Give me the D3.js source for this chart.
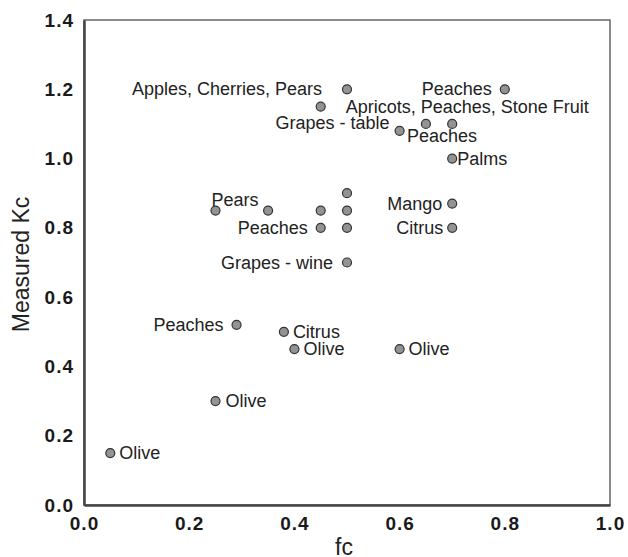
<!DOCTYPE html>
<html lang="en">
<head>
  <meta charset="UTF-8">
  <title>Measured Kc vs fc</title>
  <script src="https://d3js.org/d3.v7.min.js"></script>
  <style>
    body { margin: 0; background: #fff; font-family: "Liberation Sans", Arial, sans-serif; }
    svg { display: block; }
    .tick-label { font-weight: bold; font-size: 19px; fill: #1a1a1a; letter-spacing: 1px; }
    .pt-label { font-size: 18px; fill: #222; }
    .axis-title { font-size: 23px; fill: #222; }
  </style>
</head>
<body>
<svg id="chart" width="628" height="557"></svg>
<script>
// Data
const fc = [0.05, 0.25, 0.29, 0.38, 0.40, 0.60, 0.25, 0.35, 0.45, 0.50, 0.50, 0.45,
            0.50, 0.50, 0.70, 0.70, 0.50, 0.45, 0.80, 0.60, 0.65, 0.70, 0.70];
const kc = [0.15, 0.30, 0.52, 0.50, 0.45, 0.45, 0.85, 0.85, 0.85, 0.85, 0.90, 0.80,
            0.80, 0.70, 0.87, 0.80, 1.20, 1.15, 1.20, 1.08, 1.10, 1.10, 1.00];

// label text and the index of the point it belongs to
const labelText = ['Olive', 'Olive', 'Peaches', 'Citrus', 'Olive', 'Olive', 'Pears',
  'Peaches', 'Grapes - wine', 'Mango', 'Citrus', 'Apples, Cherries, Pears',
  'Apricots, Peaches, Stone Fruit', 'Peaches', 'Grapes - table', 'Peaches', 'Palms'];
const labelPoint = [0, 1, 2, 3, 4, 5, 6, 11, 13, 14, 15, 16, 17, 18, 19, 20, 22];
// offsets [dx, dy(baseline), anchor]
const labelPos = [
  [9, 6, 'start'], [10, 6, 'start'], [-13, 6, 'end'], [9, 6, 'start'], [9, 6, 'start'],
  [9, 6, 'start'], [-4, -5, 'start'], [-13, 6, 'end'], [-14, 6, 'end'], [-10, 6, 'end'],
  [-9, 6, 'end'], [-25, 6, 'end'], [25, 6, 'start'], [-13, 6, 'end'], [-10, -2, 'end'],
  [-19, 18, 'start'], [5, 6, 'start']
];

const xTicks = [0, 0.2, 0.4, 0.6, 0.8, 1.0];
const yTicks = [0, 0.2, 0.4, 0.6, 0.8, 1.0, 1.2, 1.4];

const margin = { left: 84, right: 18, top: 20, bottom: 52 };
const width = 628, height = 557;

const x = d3.scaleLinear().domain([0, 1]).range([margin.left, width - margin.right]);
const y = d3.scaleLinear().domain([0, 1.4]).range([height - margin.bottom, margin.top]);

const svg = d3.select('#chart');

// frame
svg.append('rect')
  .attr('x', x(0)).attr('y', y(1.4))
  .attr('width', x(1) - x(0)).attr('height', y(0) - y(1.4))
  .attr('fill', 'none').attr('stroke', '#666').attr('stroke-width', 1.5);

// axes (no tick marks, bold labels)
const xAxis = svg.append('g')
  .attr('transform', `translate(0,${y(0)})`)
  .call(d3.axisBottom(x).tickValues(xTicks).tickSize(0).tickPadding(12).tickFormat(d3.format('.1f')));
const yAxis = svg.append('g')
  .attr('transform', `translate(${x(0)},0)`)
  .call(d3.axisLeft(y).tickValues(yTicks).tickSize(0).tickPadding(10).tickFormat(d3.format('.1f')));
[xAxis, yAxis].forEach(g => {
  g.select('.domain').attr('stroke', '#444').attr('stroke-width', 2.5);
  g.selectAll('text').attr('class', 'tick-label').attr('font-family', null).attr('font-size', null);
});
xAxis.selectAll('text').attr('dy', '0.71em');

// points
const pts = fc.map((v, i) => [v, kc[i]]);
svg.append('g').selectAll('circle')
  .data(pts).join('circle')
  .attr('cx', d => x(d[0])).attr('cy', d => y(d[1]))
  .attr('r', 4.5)
  .attr('fill', '#939393').attr('stroke', '#333').attr('stroke-width', 1.2);

// labels
svg.append('g').selectAll('text')
  .data(labelText).join('text')
  .attr('class', 'pt-label')
  .attr('x', (d, i) => x(fc[labelPoint[i]]) + labelPos[i][0])
  .attr('y', (d, i) => y(kc[labelPoint[i]]) + labelPos[i][1])
  .attr('text-anchor', (d, i) => labelPos[i][2])
  .text(d => d);

// axis titles
svg.append('text').attr('class', 'axis-title')
  .attr('x', (x(0) + x(1)) / 2 - 3).attr('y', 555)
  .attr('text-anchor', 'middle').text('fc');
svg.append('text').attr('class', 'axis-title')
  .attr('transform', `translate(29,${(y(0) + y(1.4)) / 2 + 2}) rotate(-90)`)
  .attr('text-anchor', 'middle').text('Measured Kc');
</script>
</body>
</html>
